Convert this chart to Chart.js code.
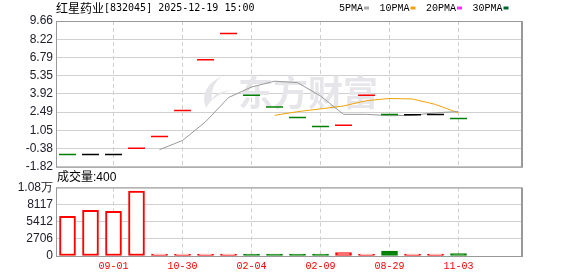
<!DOCTYPE html>
<html>
<head>
<meta charset="utf-8">
<script src="https://cdn.jsdelivr.net/npm/chart.js@4"></script>
<style>
  html, body { margin: 0; padding: 0; background: #fff; }
  #wrap { position: relative; width: 578px; height: 276px; overflow: hidden; }
  #kline { position: absolute; left: 0; top: 0; }
  #vol { position: absolute; left: 0; top: 170px; }
</style>
</head>
<body>
<div id="wrap">
  <canvas id="kline" width="578" height="177"></canvas>
  <canvas id="vol" width="578" height="106"></canvas>
</div>
<script>
/* K-line (flat candles) + moving averages + volume bars. */
const stockName = '红星药业';
const stockInfo = '[832045] 2025-12-19 15:00';
const volTitle = '成交量:400';
const watermark = '东方财富';

const xLabels = ['09-01', '10-30', '02-04', '02-09', '08-29', '11-03'];
const xLabelAt = [2, 5, 8, 11, 14, 17];

const closes = [-0.86, -0.86, -0.86, -0.35, 0.57, 2.62, 6.61, 8.68, 3.82,
  2.88, 2.06, 1.35, 1.45, 3.82, 2.30, 2.27, 2.30, 1.98];
const closeTone = ['g', 'k', 'k', 'r', 'r', 'r', 'r', 'r', 'g',
  'g', 'g', 'g', 'r', 'r', 'g', 'k', 'k', 'g'];
const ma5 = [null, null, null, null, -0.47, 0.25, 1.72, 3.63, 4.46,
  4.92, 4.81, 3.76, 2.31, 2.31, 2.20, 2.24, 2.43, 2.53];
const ma10 = [null, null, null, null, null, null, null, null, null,
  2.23, 2.52, 2.74, 2.97, 3.39, 3.56, 3.52, 3.09, 2.42];

const volumes = [6254, 7216, 7056, 10263, 200, 150, 180, 120, 250,
  200, 160, 230, 550, 180, 760, 220, 190, 400];
const volTone = ['r', 'r', 'r', 'r', 'r', 'r', 'r', 'r', 'g',
  'g', 'g', 'g', 'r', 'r', 'g', 'r', 'r', 'g'];

const priceTicks = [-1.82, -0.38, 1.05, 2.49, 3.92, 5.35, 6.79, 8.22, 9.66];
const priceTickLabels = ['-1.82', '-0.38', '1.05', '2.49', '3.92', '5.35', '6.79', '8.22', '9.66'];
const volTicks = [0, 2706, 5412, 8117, 10823];
const volTickLabels = ['0', '2706', '5412', '8117', '1.08万'];

const legendNames = ['5PMA', '10PMA', '20PMA', '30PMA'];
const legendColors = ['#aaaaaa', '#f0a30a', '#ff33ff', '#006633'];

const TONE = { r: '#ff0000', g: '#008000', k: '#000000' };
const FRAME = '#999999';

function pts(arr) {
  return arr.map((v, i) => ({ x: i, y: v })).filter((p) => p.y !== null);
}

function xAxis(showLabels) {
  return {
    type: 'linear',
    min: -0.5,
    max: 19.76,
    offset: false,
    afterBuildTicks: (s) => { s.ticks = xLabelAt.map((v) => ({ value: v })); },
    grid: { color: '#d0d0d0', drawTicks: false, offset: false },
    border: { display: false, dash: [4, 3] },
    ticks: {
      display: showLabels,
      color: '#ff0000',
      font: { family: 'Liberation Mono', size: 10 },
      padding: 4,
      maxRotation: 0,
      autoSkip: false,
      callback: (v, i) => xLabels[i],
    },
  };
}

function yAxis(min, max, ticks, labels) {
  return {
    min, max,
    afterBuildTicks: (s) => { s.ticks = ticks.map((v) => ({ value: v })); },
    afterFit: (s) => { s.width = 56; },
    grid: { color: '#d0d0d0', drawTicks: false },
    border: { display: false },
    ticks: {
      color: '#20202c',
      font: { family: 'Liberation Sans', size: 12 },
      padding: 3,
      autoSkip: false,
      callback: (v, i) => labels[i],
    },
  };
}

function frame(chart) {
  const { ctx, chartArea: a } = chart;
  ctx.save();
  ctx.strokeStyle = FRAME;
  ctx.lineWidth = 1;
  ctx.strokeRect(a.left + 0.5, a.top + 0.5, a.right - a.left - 1, a.bottom - a.top);
  ctx.beginPath();
  ctx.moveTo(a.right + 0.5, a.top);
  ctx.lineTo(a.right + 0.5, a.bottom + 1);
  ctx.stroke();
  ctx.restore();
}

const klineDecor = {
  id: 'klineDecor',
  beforeDatasetsDraw(chart) {
    const ctx = chart.ctx;
    ctx.save();
    ctx.fillStyle = '#e6e6ea';
    // logo swoosh
    ctx.beginPath();
    ctx.moveTo(222, 76);
    ctx.quadraticCurveTo(198, 88, 206, 108);
    ctx.quadraticCurveTo(212, 96, 232, 90);
    ctx.quadraticCurveTo(214, 92, 212, 100);
    ctx.quadraticCurveTo(210, 86, 222, 76);
    ctx.fill();
    ctx.font = 'bold 35px "Noto Sans CJK SC"';
    ctx.textBaseline = 'middle';
    ctx.fillText(watermark, 238, 93);
    ctx.restore();
  },
  afterDraw(chart) {
    const ctx = chart.ctx;
    frame(chart);
    ctx.save();
    ctx.fillStyle = '#000';
    ctx.textBaseline = 'middle';
    ctx.font = '12px "Noto Sans CJK SC"';
    ctx.fillText(stockName, 56, 8);
    const w = ctx.measureText(stockName).width;
    ctx.font = '10px "DejaVu Sans Mono"';
    ctx.fillText(stockInfo, 56 + w, 8);
    // legend: text then colour mark
    let x = 339;
    ctx.font = '10px "Liberation Mono"';
    legendNames.forEach((name, i) => {
      ctx.fillStyle = '#000';
      ctx.fillText(name, x, 8.5);
      const tw = ctx.measureText(name).width;
      ctx.fillStyle = legendColors[i];
      ctx.fillRect(x + tw + 1, 6.5, 5, 3);
      x += tw + 16.5;
    });
    ctx.restore();
  },
};

const volDecor = {
  id: 'volDecor',
  afterDraw(chart) {
    const ctx = chart.ctx;
    frame(chart);
    ctx.save();
    ctx.fillStyle = '#000';
    ctx.textBaseline = 'middle';
    ctx.font = '12px "Liberation Sans", "Noto Sans CJK SC"';
    ctx.fillText(volTitle, 57, 7.5);
    ctx.restore();
  },
};

new Chart(document.getElementById('kline'), {
  type: 'line',
  data: {
    datasets: [
      {
        type: 'scatter',
        data: pts(closes),
        pointStyle: 'line',
        pointRadius: 8.5,
        pointBorderWidth: 1.5,
        pointBorderColor: closeTone.map((t) => TONE[t]),
        pointBackgroundColor: closeTone.map((t) => TONE[t]),
        order: 1,
      },
      {
        data: pts(ma5),
        borderColor: '#9a9a9a',
        borderWidth: 1,
        pointRadius: 0,
        tension: 0,
        order: 2,
      },
      {
        data: pts(ma10),
        borderColor: '#f0a30a',
        borderWidth: 1,
        pointRadius: 0,
        tension: 0,
        order: 3,
      },
    ],
  },
  options: {
    responsive: false,
    animation: false,
    events: [],
    layout: { padding: { top: 21, right: 56, bottom: 0, left: 0 } },
    plugins: { legend: { display: false }, tooltip: { enabled: false } },
    scales: {
      x: xAxis(false),
      y: yAxis(-1.82, 9.66, priceTicks, priceTickLabels),
    },
  },
  plugins: [klineDecor],
});

new Chart(document.getElementById('vol'), {
  type: 'bar',
  data: {
    datasets: [{
      data: pts(volumes),
      backgroundColor: volTone.map((t) => (t === 'g' ? TONE.g : '#ffffff')),
      borderColor: volTone.map((t) => TONE[t]),
      borderWidth: 2,
      borderSkipped: false,
      barThickness: 16,
      minBarLength: 2,
    }],
  },
  options: {
    responsive: false,
    animation: false,
    events: [],
    layout: { padding: { top: 17.5, right: 56, bottom: 0, left: 0 } },
    plugins: { legend: { display: false }, tooltip: { enabled: false } },
    scales: {
      x: xAxis(true),
      y: yAxis(0, 10823, volTicks, volTickLabels),
    },
  },
  plugins: [volDecor],
});
</script>
</body>
</html>
